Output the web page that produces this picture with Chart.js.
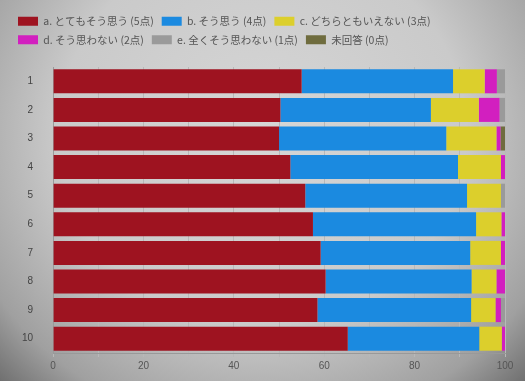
<!DOCTYPE html>
<html>
<head>
<meta charset="utf-8">
<script src="https://cdn.jsdelivr.net/npm/chart.js@4"></script>
<style>
html,body{margin:0;padding:0;}
body{width:525px;height:381px;background:radial-gradient(ellipse at 50% 35%, #d6d6d6 0%, #cacaca 55%, #a0a0a0 85%, #707070 100%);}
#wrap{position:relative;width:525px;height:381px;}
</style>
</head>
<body>
<div id="wrap"><canvas id="c" width="525" height="381"></canvas></div>
<script>
const categories = ['1','2','3','4','5','6','7','8','9','10'];
const seriesNames = ['a. とてもそう思う (5点)','b. そう思う (4点)','c. どちらともいえない (3点)','d. そう思わない (2点)','e. 全くそう思わない (1点)','未回答 (0点)'];
const valuesA = [55.0, 50.3, 50.0, 52.5, 55.8, 57.5, 59.2, 60.3, 58.5, 65.2];
const valuesB = [33.5, 33.3, 37.0, 37.1, 35.8, 36.1, 33.1, 32.3, 34.0, 29.1];
const valuesC = [7.0, 10.6, 11.1, 9.5, 7.5, 5.6, 6.8, 5.5, 5.4, 5.0];
const valuesD = [2.7, 4.6, 0.9, 0.9, 0, 0.9, 0.9, 1.9, 1.2, 0.7];
const valuesE = [1.8, 1.2, 0, 0, 0.9, 0, 0, 0, 0.9, 0];
const valuesF = [0, 0, 1.0, 0, 0, 0, 0, 0, 0, 0];
const xTicks = [0, 20, 40, 60, 80, 100];
const colors = ['#9e1320','#1b8ae0','#dccf2c','#d21fbf','#9a9a9a','#6f6c3e'];

const allValues = [valuesA, valuesB, valuesC, valuesD, valuesE, valuesF];
const datasets = seriesNames.map((n, i) => ({
  label: n,
  data: allValues[i],
  backgroundColor: colors[i],
  borderWidth: 0,
  barPercentage: 1.0,
  categoryPercentage: 0.84
}));

const legendGap = {
  id: 'legendGap',
  beforeInit(chart) {
    const orig = chart.legend.fit;
    chart.legend.fit = function () { orig.bind(chart.legend)(); this.height += 12; };
  }
};

new Chart(document.getElementById('c'), {
  type: 'bar',
  data: { labels: categories, datasets },
  plugins: [legendGap],
  options: {
    indexAxis: 'y',
    responsive: false,
    animation: false,
    layout: { padding: { left: 10, right: 20, top: 8, bottom: 6 } },
    plugins: {
      legend: {
        position: 'top',
        align: 'start',
        labels: {
          boxWidth: 20, boxHeight: 9,
          color: '#555',
          padding: 8,
          font: { family: '"Noto Sans CJK JP", "Noto Sans", sans-serif', size: 10.5 }
        }
      },
      tooltip: { enabled: false }
    },
    scales: {
      x: {
        stacked: true,
        min: 0, max: 100,
        ticks: {
          stepSize: 10,
          color: '#555',
          font: { family: '"Liberation Sans", sans-serif', size: 10 },
          callback: v => xTicks.includes(v) ? String(v) : ''
        },
        grid: { color: '#b8b8b8', drawTicks: true, tickLength: 4 },
        border: { color: '#999' }
      },
      y: {
        stacked: true,
        ticks: {
          color: '#444',
          padding: 12,
          font: { family: '"Liberation Sans", sans-serif', size: 10 }
        },
        grid: { display: false },
        border: { color: '#999' }
      }
    }
  }
});
</script>
</body>
</html>
